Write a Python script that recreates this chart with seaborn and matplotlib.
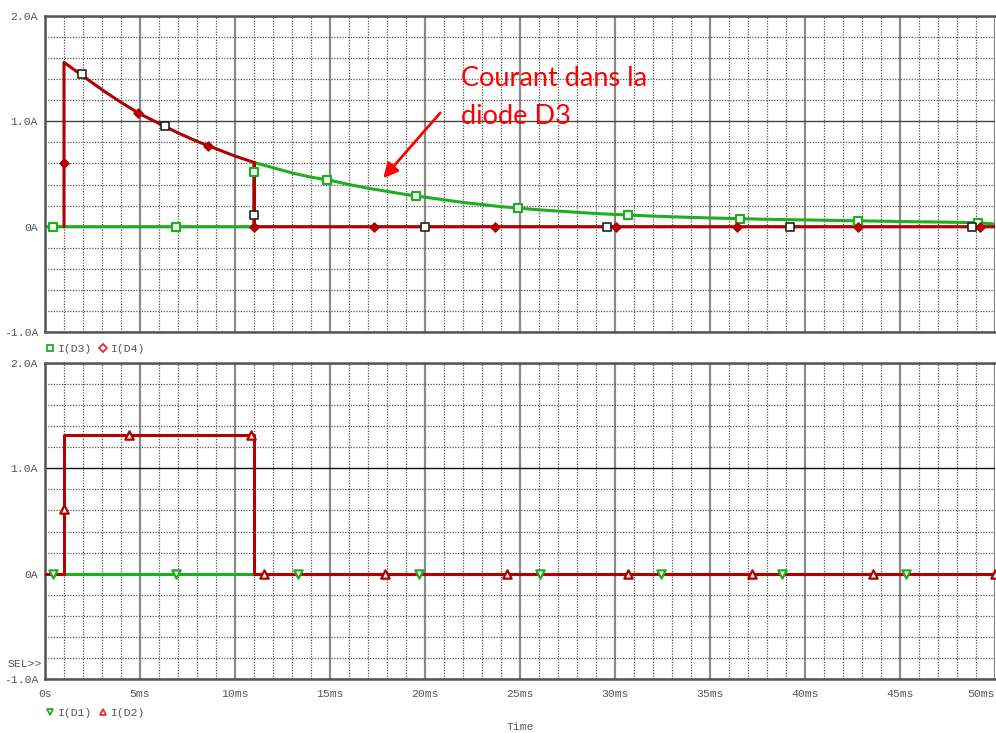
import pandas as pd
import matplotlib
matplotlib.use('Agg')
import matplotlib.pyplot as plt
import seaborn as sns
from matplotlib.lines import Line2D
from matplotlib.ticker import MultipleLocator

# traces (time in ms, current in A)
d4_time = [1.0, 1.0, 2, 3, 4, 5, 6, 7, 8, 9, 10, 11.0, 11.0, 50]
d4_amp = [0, 1.56, 1.43, 1.30, 1.18, 1.07, 0.98, 0.89, 0.81, 0.74, 0.67, 0.61, 0, 0]

d3_time = [0, 11.0, 11.0, 12, 13, 14, 15, 16, 17, 18, 19, 20, 21, 22, 23, 24, 25,
           26, 27, 28, 29, 30, 31, 32, 33, 34, 35, 36, 37, 38, 39, 40, 41, 42, 43,
           44, 45, 46, 47, 48, 49, 50]
d3_amp = [0, 0, 0.61, 0.56, 0.51, 0.47, 0.44, 0.40, 0.365, 0.335, 0.305, 0.28,
          0.255, 0.23, 0.21, 0.19, 0.175, 0.16, 0.148, 0.136, 0.125, 0.116, 0.108,
          0.10, 0.094, 0.088, 0.083, 0.078, 0.074, 0.070, 0.067, 0.064, 0.061,
          0.058, 0.055, 0.052, 0.049, 0.046, 0.044, 0.041, 0.038, 0.025]

d1_time = [0, 50]
d1_amp = [0, 0]
d2_time = [0, 1.0, 1.0, 11.0, 11.0, 50]
d2_amp = [0, 0, 1.32, 1.32, 0, 0]

# trace symbols
d3_mk_t = [0.4, 6.9, 11.0, 14.85, 19.5, 24.9, 30.7, 36.6, 42.8, 49.1]
d3_mk_a = [0, 0, 0.52, 0.445, 0.29, 0.18, 0.114, 0.076, 0.057, 0.038]
d4_mk_t = [1.0, 4.9, 8.6, 11.0, 17.3, 23.7, 30.05, 36.4, 42.8, 49.2]
d4_mk_a = [0.6, 1.08, 0.77, 0, 0, 0, 0, 0, 0, 0]
cur_mk_t = [1.95, 6.3, 11.0, 20.0, 29.6, 39.2, 48.8]
cur_mk_a = [1.45, 0.957, 0.11, 0, 0, 0, 0]
d1_mk_t = [0.4, 6.9, 13.3, 19.7, 26.05, 32.4, 38.8, 45.3]
d1_mk_a = [0, 0, 0, 0, 0, 0, 0, 0]
d2_mk_t = [1.0, 4.4, 10.85, 11.5, 17.9, 24.3, 30.7, 37.2, 43.6, 50.0]
d2_mk_a = [0.61, 1.32, 1.32, 0, 0, 0, 0, 0, 0, 0]

x_ticks = [0, 5, 10, 15, 20, 25, 30, 35, 40, 45, 50]
x_labels = ['0s', '5ms', '10ms', '15ms', '20ms', '25ms', '30ms', '35ms', '40ms', '45ms', '50ms']
y_ticks = [-1, 0, 1, 2]
y_labels = ['-1.0A', '0A', '1.0A', '2.0A']

RED = '#b00000'
GREEN = '#1fae1f'
TXT = '#555555'
MONO = 'Liberation Mono'
FS = 8.2


def style_axes(ax, show_x):
    ax.set_xlim(0, 50)
    ax.set_ylim(-1, 2)
    ax.xaxis.set_minor_locator(MultipleLocator(1))
    ax.yaxis.set_minor_locator(MultipleLocator(0.2))
    ax.set_xticks(x_ticks)
    ax.set_yticks(y_ticks)
    ax.set_yticklabels(y_labels, fontfamily=MONO, fontsize=FS, color=TXT)
    if show_x:
        ax.set_xticklabels(x_labels, fontfamily=MONO, fontsize=FS, color=TXT)
        # last label sits inside the figure edge
        ax.get_xticklabels()[-1].set_horizontalalignment('right')
    else:
        ax.set_xticklabels([])
    ax.tick_params(axis='both', which='major', length=4, width=1.5, color='#444444', pad=1)
    ax.tick_params(axis='x', which='major', length=0 if not show_x else 4, pad=3)
    ax.tick_params(which='minor', length=0)
    ax.grid(which='minor', color='#555555', linestyle=(0, (1, 1.2)), linewidth=0.9)
    ax.grid(which='major', axis='x', color='#8a8a8a', linestyle='-', linewidth=1.6)
    ax.grid(which='major', axis='y', color='#444444', linestyle='-', linewidth=1.0)
    for side in ['left', 'top', 'bottom']:
        ax.spines[side].set_color('#555555')
        ax.spines[side].set_linewidth(1.8)
    ax.spines['right'].set_visible(False)
    ax.set_xlabel('')
    ax.set_ylabel('')
    ax.set_axisbelow(True)


def main():
    sns.set_style('white')
    fig = plt.figure(figsize=(9.96, 7.33), dpi=100)
    ax1 = fig.add_axes([45 / 996, 401 / 733, 950 / 996, 316 / 733])
    ax2 = fig.add_axes([45 / 996, 54 / 733, 950 / 996, 316 / 733])

    # top panel: I(D3), I(D4)
    sns.lineplot(x=d4_time, y=d4_amp, ax=ax1, color=RED, linewidth=2.2,
                 estimator=None, sort=False, zorder=3)
    sns.lineplot(x=d3_time, y=d3_amp, ax=ax1, color=GREEN, linewidth=2.2,
                 estimator=None, sort=False, zorder=2)
    ax1.plot([11, 11], [0, 0.61], color=RED, linewidth=2.2, zorder=3)
    sns.scatterplot(x=d3_mk_t, y=d3_mk_a, ax=ax1, marker='s', s=36, color='white',
                    edgecolor=GREEN, linewidth=1.6, zorder=5)
    sns.scatterplot(x=d4_mk_t, y=d4_mk_a, ax=ax1, marker='D', s=22, color=RED,
                    edgecolor=RED, linewidth=1, zorder=5)
    sns.scatterplot(x=cur_mk_t, y=cur_mk_a, ax=ax1, marker='s', s=40, color='white',
                    edgecolor='#222222', linewidth=1.2, zorder=6)
    style_axes(ax1, False)

    # bottom panel: I(D1), I(D2)
    sns.lineplot(x=d1_time, y=d1_amp, ax=ax2, color=GREEN, linewidth=2.2,
                 estimator=None, sort=False, zorder=2)
    sns.lineplot(x=d2_time, y=d2_amp, ax=ax2, color=RED, linewidth=2.2,
                 estimator=None, sort=False, zorder=3)
    sns.scatterplot(x=d1_mk_t, y=d1_mk_a, ax=ax2, marker='v', s=36, color='white',
                    edgecolor=GREEN, linewidth=1.6, zorder=5)
    sns.scatterplot(x=d2_mk_t, y=d2_mk_a, ax=ax2, marker='^', s=36, color='white',
                    edgecolor=RED, linewidth=1.6, zorder=5, clip_on=False)
    style_axes(ax2, True)
    ax2.grid(which='major', axis='y', color='#111111', linestyle='-', linewidth=1.0)

    # legends in PSpice style
    leg_font = {'family': MONO, 'size': FS}
    h1 = [Line2D([], [], linestyle='none', marker='s', markersize=5, markerfacecolor='white',
                 markeredgecolor=GREEN, markeredgewidth=1.3),
          Line2D([], [], linestyle='none', marker='D', markersize=4.5, markerfacecolor='white',
                 markeredgecolor='#e03030', markeredgewidth=1.3)]
    lg1 = ax1.legend(h1, ['I(D3)', 'I(D4)'], loc='center left', bbox_to_anchor=(0.0, -0.054),
                     ncol=2, frameon=False, prop=leg_font, handlelength=0.8, handletextpad=0.3,
                     columnspacing=0.6, borderpad=0, borderaxespad=0)
    for t in lg1.get_texts():
        t.set_color(TXT)
    h2 = [Line2D([], [], linestyle='none', marker='v', markersize=5, markerfacecolor='white',
                 markeredgecolor=GREEN, markeredgewidth=1.3),
          Line2D([], [], linestyle='none', marker='^', markersize=5, markerfacecolor='white',
                 markeredgecolor='#e03030', markeredgewidth=1.3)]
    lg2 = ax2.legend(h2, ['I(D1)', 'I(D2)'], loc='center left', bbox_to_anchor=(0.0, -0.108),
                     ncol=2, frameon=False, prop=leg_font, handlelength=0.8, handletextpad=0.3,
                     columnspacing=0.6, borderpad=0, borderaxespad=0)
    for t in lg2.get_texts():
        t.set_color(TXT)

    fig.text(520 / 996, 1 - 727 / 733, 'Time', ha='center', va='center',
             fontfamily=MONO, fontsize=FS, color=TXT)
    fig.text(42 / 996, 1 - 664 / 733, 'SEL>>', ha='right', va='center',
             fontfamily=MONO, fontsize=FS, color=TXT)

    # annotation
    ax1.text(21.9, 1.53, 'Courant dans la\ndiode D3', color='#ff0000', fontsize=19.5,
             fontfamily='Lato', ha='left', va='top', linespacing=1.65, zorder=7)
    ax1.annotate('', xy=(17.8, 0.46), xytext=(20.8, 1.08),
                 arrowprops=dict(arrowstyle='-|>', color='#ff0000', lw=2,
                                 mutation_scale=22, shrinkA=0, shrinkB=0), zorder=7)

    fig.savefig('out.png', dpi=100)


if __name__ == '__main__':
    main()
